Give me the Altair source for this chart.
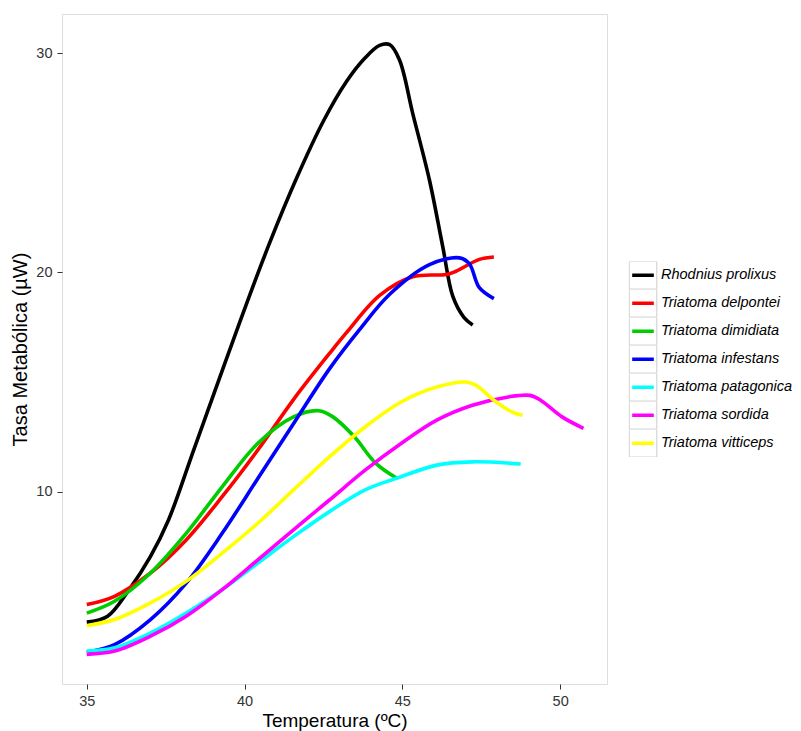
import altair as alt
import pandas as pd

species = ["Rhodnius prolixus", "Triatoma delpontei", "Triatoma dimidiata",
           "Triatoma infestans", "Triatoma patagonica", "Triatoma sordida",
           "Triatoma vitticeps"]
colors = ["#000000", "#FF0000", "#00CD00", "#0000FF", "#00FFFF", "#FF00FF", "#FFFF00"]
keys = ["k1", "k2", "k3", "k4", "k5", "k6", "k7"]

rp_x = [35.0, 35.66, 36.34, 37.02, 37.59, 38.39, 39.34, 40.07, 40.81, 41.65, 42.5, 43.23, 43.8, 44.28, 44.6, 44.91, 45.33, 45.86, 46.28, 46.6, 46.95, 47.23]
rp_y = [4.05, 4.32, 5.53, 7.05, 8.71, 11.91, 15.71, 18.6, 21.4, 24.3, 26.9, 28.7, 29.75, 30.35, 30.38, 29.68, 27.24, 24.2, 21.17, 18.9, 17.95, 17.6]

de_x = [35.0, 35.88, 37.02, 38.15, 39.29, 40.42, 41.55, 42.69, 43.23, 44.28, 45.33, 46.39, 46.7, 47.44, 47.9]
de_y = [4.85, 5.23, 6.29, 7.8, 9.77, 11.9, 14.2, 16.3, 17.25, 18.95, 19.8, 19.9, 20.05, 20.59, 20.7]

di_x = [35.0, 35.88, 37.02, 38.15, 39.29, 40.42, 41.55, 42.35, 42.8, 43.48, 44.16, 44.84]
di_y = [4.46, 5.0, 6.29, 8.1, 10.22, 12.2, 13.41, 13.69, 13.41, 12.5, 11.29, 10.6]

in_x = [35.0, 35.88, 37.02, 38.15, 39.29, 40.42, 41.55, 42.69, 43.65, 44.6, 45.86, 46.81, 47.12, 47.44, 47.9]
in_y = [2.68, 3.03, 4.17, 5.83, 8.1, 10.6, 13.1, 15.6, 17.4, 19.0, 20.35, 20.66, 20.4, 19.3, 18.8]

pa_x = [35.0, 35.88, 37.02, 38.15, 39.29, 40.42, 41.55, 42.69, 43.82, 44.96, 46.09, 47.22, 48.75]
pa_y = [2.73, 2.88, 3.56, 4.47, 5.53, 6.74, 7.95, 9.09, 10.08, 10.68, 11.21, 11.36, 11.26]

so_x = [35.0, 35.88, 37.02, 38.15, 39.29, 40.42, 41.55, 42.69, 43.82, 44.96, 46.09, 47.22, 48.36, 49.04, 49.38, 50.06, 50.74]
so_y = [2.58, 2.73, 3.41, 4.32, 5.53, 6.89, 8.26, 9.62, 10.98, 12.2, 13.26, 13.94, 14.32, 14.39, 14.17, 13.41, 12.89]

vi_x = [35.0, 35.88, 37.02, 38.15, 39.29, 40.42, 41.55, 42.69, 43.82, 44.96, 46.09, 47.0, 47.34, 47.9, 48.47, 48.81]
vi_y = [3.89, 4.17, 4.93, 5.91, 7.2, 8.56, 10.08, 11.59, 12.95, 14.09, 14.77, 15.0, 14.85, 14.17, 13.64, 13.48]

series = [(rp_x, rp_y), (de_x, de_y), (di_x, di_y), (in_x, in_y),
          (pa_x, pa_y), (so_x, so_y), (vi_x, vi_y)]

rows = []
for name, key, (xs, ys) in zip(species, keys, series):
    for i, (xv, yv) in enumerate(zip(xs, ys)):
        rows.append({"Especie": name, "key": key, "T": xv, "MR": yv, "i": i})
df = pd.DataFrame(rows)

FONT = "Liberation Sans"

x_enc = alt.X("T:Q", title="Temperatura (ºC)",
              scale=alt.Scale(domain=[34.215, 51.485], nice=False, zero=False),
              axis=alt.Axis(values=[35, 40, 45, 50], grid=False, domain=False,
                            tickColor="#333333", tickSize=5, labelFontSize=14.5,
                            labelColor="#333333", titleFontSize=19, titleFontWeight="normal",
                            labelPadding=5, titlePadding=4, labelFont=FONT, titleFont=FONT,
                            titleColor="#000000"))
y_enc = alt.Y("MR:Q", title="Tasa Metabólica (µW)",
              scale=alt.Scale(domain=[1.23, 31.78], nice=False, zero=False),
              axis=alt.Axis(values=[10, 20, 30], grid=False, domain=False,
                            tickColor="#333333", tickSize=5, labelFontSize=14.5,
                            labelColor="#333333", titleFontSize=20, titleFontWeight="normal",
                            labelPadding=5, titlePadding=5, labelFont=FONT, titleFont=FONT,
                            titleColor="#000000"))

lines = alt.Chart(df).mark_line(strokeWidth=3.6, interpolate="catmull-rom").encode(
    x=x_enc,
    y=y_enc,
    color=alt.Color("Especie:N", title=None,
                    scale=alt.Scale(domain=species, range=colors),
                    legend=alt.Legend(orient="none", legendX=568, legendY=247.5,
                                      symbolType="stroke", symbolStrokeWidth=3.6,
                                      symbolSize=467, labelFontStyle="italic",
                                      labelFontSize=14.5, labelFont=FONT,
                                      labelColor="#000000", rowPadding=0,
                                      clipHeight=27.6, labelOffset=5)),
    order="i:Q",
)

boxes = alt.Chart(df).mark_point(opacity=0).encode(
    x=alt.X("T:Q"),
    y=alt.Y("MR:Q"),
    shape=alt.Shape("key:N", title=None,
                    scale=alt.Scale(domain=keys, range=["square"] * 7),
                    legend=alt.Legend(orient="none", legendX=566.5, legendY=247.5,
                                      symbolFillColor="transparent",
                                      symbolStrokeColor="#cccccc",
                                      symbolStrokeWidth=1, symbolSize=762,
                                      symbolOpacity=1, rowPadding=0,
                                      clipHeight=27.6,
                                      labelExpr="''", labelFontSize=1)),
)

chart = alt.layer(boxes, lines).properties(
    width=545, height=670,
    padding={"left": 62, "top": 14, "right": 194, "bottom": 47},
    autosize=alt.AutoSizeParams(type="none"),
).configure_view(
    stroke="#b3b3b3", strokeWidth=1.2
).configure(background="white")

chart.save("out.html", embed_options={"renderer": "svg", "actions": False})
